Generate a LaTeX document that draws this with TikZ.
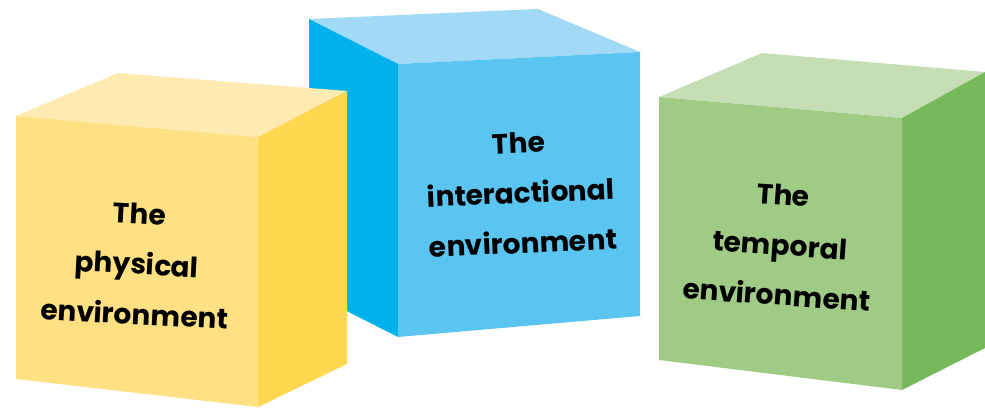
\documentclass[tikz,border=0pt]{standalone}
\usepackage{fontspec}
\setmainfont{Poppins}
\definecolor{yeltop}{HTML}{FFEBB2}
\definecolor{yelfront}{HTML}{FFE082}
\definecolor{yelside}{HTML}{FFD84F}
\definecolor{bluetop}{HTML}{A1D9F7}
\definecolor{bluefront}{HTML}{5BC5F2}
\definecolor{blueside}{HTML}{00B2EB}
\definecolor{grntop}{HTML}{C5DEB3}
\definecolor{grnfront}{HTML}{9FCB84}
\definecolor{grnside}{HTML}{75B95A}
\begin{document}
\begin{tikzpicture}[x=1pt,y=-1pt,
  envlabel/.style={font=\bfseries\fontsize{28}{50}\selectfont, align=center, text=black, inner sep=0pt}]
\useasboundingbox (0,0) rectangle (985,407);

% interactional cube, behind the others
\fill[bluetop] (309,19) -- (538,9) -- (640,52) -- (398,64) -- cycle;
\fill[blueside] (309,19) -- (398,64) -- (398,337) -- (309,292) -- cycle;
\fill[bluefront] (398,64) -- (640,52) -- (640,316) -- (398,337) -- cycle;
\node[envlabel, rotate=2.5] (interactional) at (521,193) {The\\interactional\\environment};

% physical cube
\fill[yeltop] (16,116) -- (118,73) -- (347,91) -- (258,137) -- cycle;
\fill[yelside] (258,137) -- (347,91) -- (347,364) -- (258,407) -- cycle;
\fill[yelfront] (16,116) -- (258,137) -- (258,407) -- (16,379) -- cycle;
\node[envlabel, rotate=-3] (physical) at (137,264) {The\\physical\\environment};

% temporal cube
\fill[grntop] (659,97) -- (762,53) -- (985,72) -- (902,118) -- cycle;
\fill[grnside] (902,118) -- (985,72) -- (985,348) -- (902,390) -- cycle;
\fill[grnfront] (659,97) -- (902,118) -- (902,390) -- (659,360) -- cycle;
\node[envlabel, rotate=-4] (temporal) at (780,245) {The\\temporal\\environment};
\end{tikzpicture}
\end{document}
